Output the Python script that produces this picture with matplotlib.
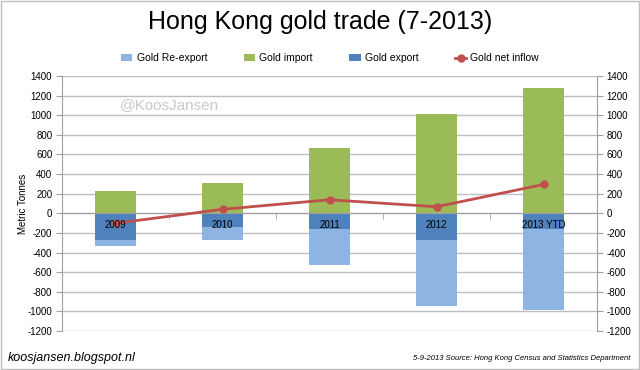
import matplotlib
matplotlib.use("Agg")
import matplotlib.pyplot as plt
from matplotlib.patches import Rectangle
import numpy as np

categories = ["2009", "2010", "2011", "2012", "2013 YTD"]
gold_export = [-272, -142, -157, -272, -157]
gold_reexport = [-61, -134, -371, -677, -826]
gold_import = [226, 312, 666, 1015, 1278]
net_inflow = [-102, 41, 138, 67, 294]
yticks = list(range(-1200, 1401, 200))

c_re = "#8DB4E2"
c_imp = "#9BBB59"
c_exp = "#4F81BD"
c_net = "#C0504D"
font = "Liberation Sans"
plt.rcParams['font.family'] = [font, 'DejaVu Sans']

fig = plt.figure(figsize=(6.4, 3.7), dpi=100)
ax = fig.add_axes([62/640, 1-331/370, (597-62)/640, (331-76)/370])
x = np.arange(len(categories))
w = 0.39
ax.bar(x, gold_import, w, color=c_imp, label="Gold import", zorder=2)
ax.bar(x, gold_export, w, color=c_exp, label="Gold export", zorder=2)
ax.bar(x, gold_reexport, w, bottom=gold_export, color=c_re, label="Gold Re-export", zorder=2)
ax.plot(x, net_inflow, color=c_net, lw=2, marker='o', ms=5, label="Gold net inflow", zorder=4)

ax.set_xlim(-0.5, len(categories) - 0.5)
ax.set_ylim(-1200, 1400)
ax.set_yticks(yticks)
ax.set_yticklabels([str(t) for t in yticks], fontsize=7)
ax.yaxis.grid(True, color="#BEBEBE", lw=1, zorder=0)
ax.set_axisbelow(True)
ax.tick_params(axis='y', length=4, color="#A0A0A0", pad=3)
ax.set_xticks([])
ax.set_xticks(np.arange(0.5, len(categories) - 0.5, 1), minor=True)
ax.tick_params(axis='x', which='minor', length=4, color="#A0A0A0", direction='out')
ax.spines['bottom'].set_position(('data', 0))
ax.spines['bottom'].set_color("#A0A0A0")
ax.spines['top'].set_visible(False)
ax.spines['left'].set_color("#A0A0A0")
ax.spines['right'].set_color("#A0A0A0")
for xi, lab in zip(x, categories):
    ax.text(xi, -122, lab, ha='center', va='center', fontsize=7, zorder=5)
ax.set_ylabel("Metric Tonnes", fontsize=7)
ax.yaxis.set_label_coords((28 - 62) / 535, 0.5)

ax2 = ax.twinx()
ax2.set_position(ax.get_position())
ax2.set_ylim(-1200, 1400)
ax2.set_yticks(yticks)
ax2.set_yticklabels([str(t) for t in yticks], fontsize=7)
ax2.tick_params(axis='y', length=4, color="#A0A0A0", pad=3)
for s in ax2.spines.values():
    s.set_visible(False)

fig.text(0.5, 1-22/370, "Hong Kong gold trade (7-2013)", ha='center', va='center', fontsize=18)
ax.text(120/640, 1-105/370, "@KoosJansen", transform=fig.transFigure, fontsize=11, color="#C8C8C8", va='center')

handles, labels = ax.get_legend_handles_labels()
order = ["Gold Re-export", "Gold import", "Gold export", "Gold net inflow"]
hmap = dict(zip(labels, handles))
fig.legend([hmap[o] for o in order], order, loc='center', bbox_to_anchor=(0.5 + 10/640, 1-58/370),
           ncol=4, frameon=False, fontsize=7.5, columnspacing=3.5, handlelength=1.1,
           handleheight=0.6, handletextpad=0.4)

fig.text(8/640, 1-358/370, "koosjansen.blogspot.nl", fontsize=9, style='italic', va='center')
fig.text(630/640, 1-358/370, "5-9-2013 Source: Hong Kong Census and Statistics Department", fontsize=5.5,
         style='italic', va='center', ha='right')
fig.patches.append(Rectangle((0.001, 0.002), 0.997, 0.996, transform=fig.transFigure, fill=False,
                             edgecolor="#BEBEBE", lw=1))
fig.savefig("out.png", dpi=100)
